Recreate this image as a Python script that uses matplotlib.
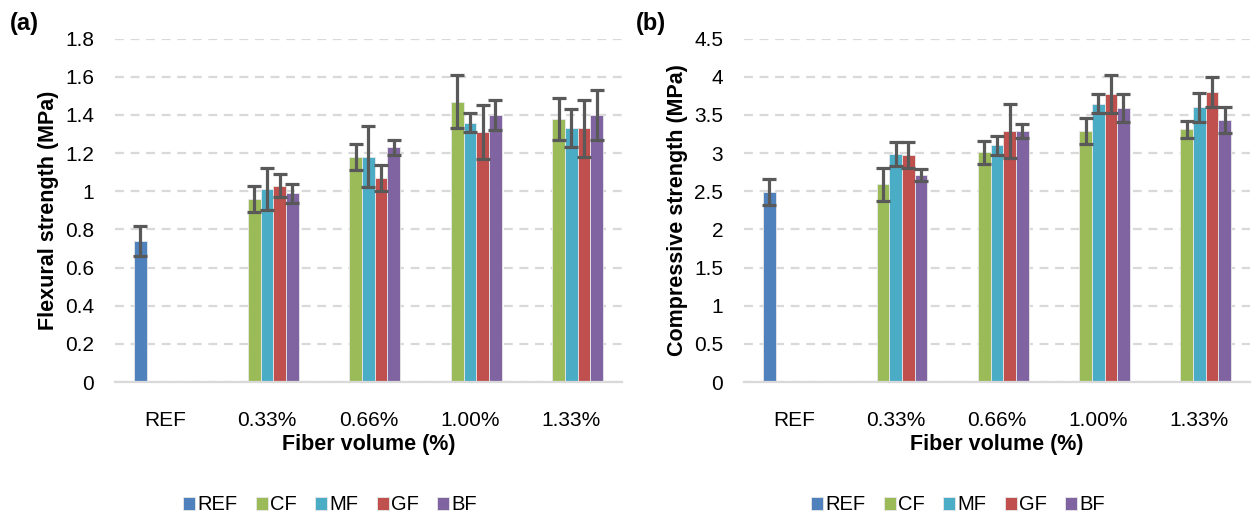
import matplotlib.pyplot as plt
import numpy as np

plt.rcParams['font.family'] = ['Liberation Sans', 'DejaVu Sans']

# -------------------------------------------------------------------------------------------------
# Data
# -------------------------------------------------------------------------------------------------
categories = ["REF", "0.33%", "0.66%", "1.00%", "1.33%"]
series = ["REF", "CF", "MF", "GF", "BF"]
colors = ["#4F81BD", "#9BBB59", "#4BACC6", "#C0504D", "#8064A2"]

# flexural strength (MPa), np.nan where a series has no bar
flex_ref = [0.74, np.nan, np.nan, np.nan, np.nan]
flex_cf = [np.nan, 0.96, 1.18, 1.47, 1.38]
flex_mf = [np.nan, 1.01, 1.18, 1.36, 1.33]
flex_gf = [np.nan, 1.03, 1.07, 1.31, 1.33]
flex_bf = [np.nan, 0.99, 1.23, 1.40, 1.40]

flex_ref_err = [0.08, 0, 0, 0, 0]
flex_cf_err = [0, 0.07, 0.07, 0.14, 0.11]
flex_mf_err = [0, 0.11, 0.16, 0.05, 0.10]
flex_gf_err = [0, 0.06, 0.07, 0.14, 0.15]
flex_bf_err = [0, 0.05, 0.04, 0.08, 0.13]

# compressive strength (MPa)
comp_ref = [2.49, np.nan, np.nan, np.nan, np.nan]
comp_cf = [np.nan, 2.59, 3.01, 3.29, 3.31]
comp_mf = [np.nan, 2.99, 3.10, 3.65, 3.60]
comp_gf = [np.nan, 2.97, 3.29, 3.77, 3.80]
comp_bf = [np.nan, 2.71, 3.29, 3.59, 3.44]

comp_ref_err = [0.165, 0, 0, 0, 0]
comp_cf_err = [0, 0.22, 0.15, 0.17, 0.11]
comp_mf_err = [0, 0.16, 0.12, 0.12, 0.19]
comp_gf_err = [0, 0.17, 0.35, 0.25, 0.20]
comp_bf_err = [0, 0.08, 0.09, 0.18, 0.17]


def draw_panel(ax, values, errors, ymax, ystep, ylabel):
    x = np.arange(len(categories))
    width = 0.125
    for i, (vals, errs) in enumerate(zip(values, errors)):
        pos = x + (i - 2) * width
        vals = np.array(vals, dtype=float)
        ax.bar(pos, np.nan_to_num(vals), width, color=colors[i], label=series[i], zorder=2,
               edgecolor='#e8e8e8', linewidth=0.6)
        mask = ~np.isnan(vals)
        ax.errorbar(pos[mask], vals[mask], yerr=np.array(errs)[mask], fmt='none',
                    ecolor='#595959', elinewidth=2.3, capsize=4.8, capthick=2.3, zorder=3)
    ticks = np.arange(0, ymax + ystep / 2, ystep)
    ax.set_xlim(-0.5, len(categories) - 0.5)
    ax.set_ylim(0, ymax)
    ax.set_yticks(ticks)
    ax.set_yticklabels(['{:g}'.format(round(t, 2)) for t in ticks])
    ax.set_xticks(x)
    ax.set_xticklabels(categories)
    ax.tick_params(axis='both', length=0, labelsize=15, colors='#000000')
    ax.tick_params(axis='x', pad=21)
    ax.tick_params(axis='y', pad=15)
    ax.yaxis.grid(True, linestyle=(0, (4, 3)), color='#d9d9d9', linewidth=1.6, zorder=0)
    ax.set_axisbelow(True)
    for s in ['top', 'right', 'left']:
        ax.spines[s].set_visible(False)
    ax.spines['bottom'].set_color('#d9d9d9')
    ax.spines['bottom'].set_linewidth(1.6)
    ax.set_xlabel("Fiber volume (%)", fontsize=15.5, fontweight='bold', labelpad=3)
    ax.set_ylabel(ylabel, fontsize=15.5, fontweight='bold', labelpad=4)


fig = plt.figure(figsize=(12.55, 5.22), dpi=100)
ax1 = fig.add_axes([0.0916, 0.268, 0.404, 0.658])
ax2 = fig.add_axes([0.5928, 0.268, 0.4032, 0.658])

draw_panel(ax1, [flex_ref, flex_cf, flex_mf, flex_gf, flex_bf],
           [flex_ref_err, flex_cf_err, flex_mf_err, flex_gf_err, flex_bf_err],
           1.8, 0.2, "Flexural strength (MPa)")
draw_panel(ax2, [comp_ref, comp_cf, comp_mf, comp_gf, comp_bf],
           [comp_ref_err, comp_cf_err, comp_mf_err, comp_gf_err, comp_bf_err],
           4.5, 0.5, "Compressive strength (MPa)")

fig.text(0.008, 0.955, "(a)", fontsize=17, fontweight='bold', va='center')
fig.text(0.507, 0.955, "(b)", fontsize=17, fontweight='bold', va='center')

for ax, cx in [(ax1, 330 / 1255), (ax2, 958 / 1255)]:
    h, l = ax.get_legend_handles_labels()
    fig.legend(h, l, loc='center', bbox_to_anchor=(cx, 0.033), ncol=5, frameon=False,
               fontsize=14.5, handlelength=0.6, handleheight=0.6, handletextpad=0.12,
               columnspacing=0.9)

fig.savefig("out.png", dpi=100)
